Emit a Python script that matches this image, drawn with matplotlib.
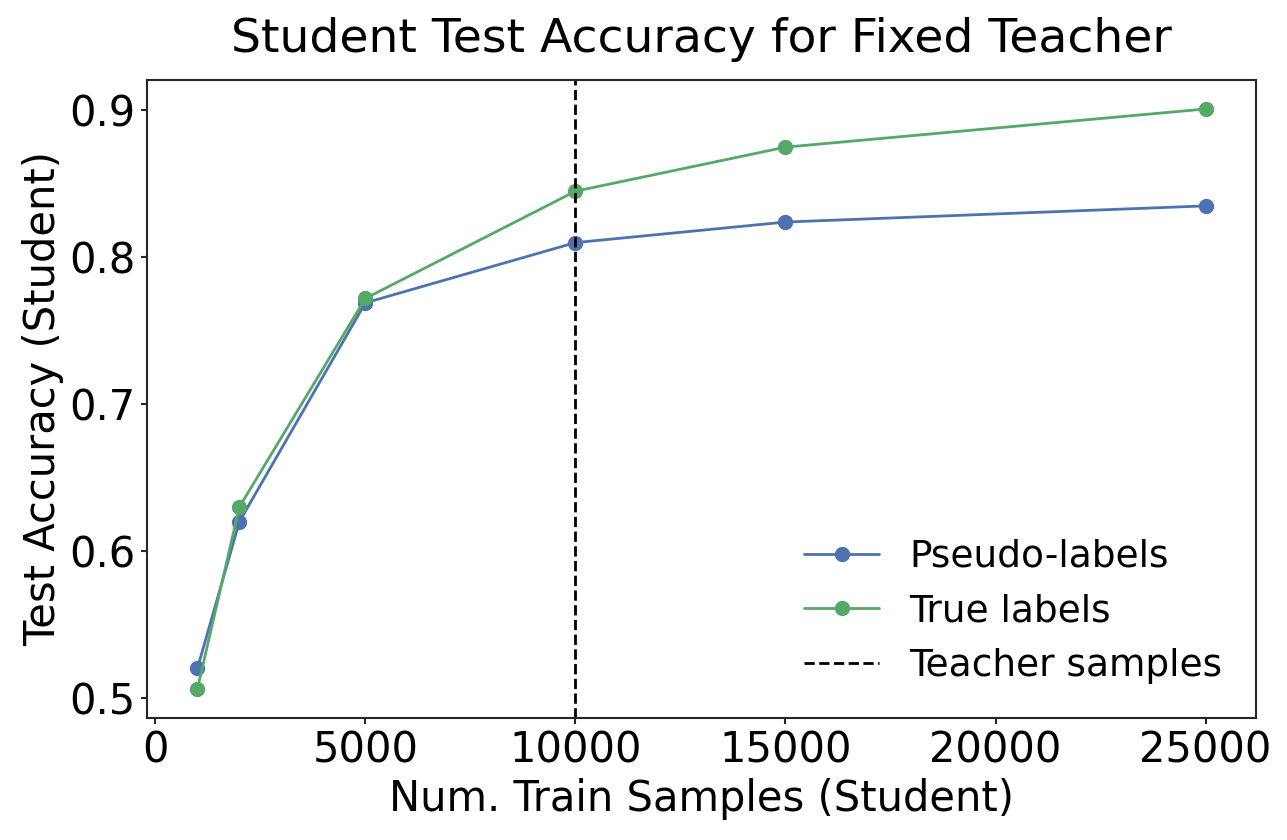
import matplotlib
matplotlib.use("Agg")
import matplotlib.pyplot as plt
import seaborn as sns

sns.set_style("ticks")
plt.rcParams['font.family'] = ['DejaVu Sans']
plt.rcParams['text.color'] = 'black'
plt.rcParams['axes.labelcolor'] = 'black'
plt.rcParams['xtick.color'] = 'black'
plt.rcParams['ytick.color'] = 'black'

train_samples = [1000, 2000, 5000, 10000, 15000, 25000]
pseudo_acc = [0.520, 0.620, 0.769, 0.810, 0.824, 0.835]
true_acc = [0.506, 0.630, 0.772, 0.845, 0.875, 0.901]
teacher_samples = 10000

blue = "#4C72B0"
green = "#55A868"

fig = plt.figure(figsize=(12.87, 8.4), dpi=100)
ax = fig.add_axes([0.1142, 0.1452, 0.8617, 0.7596])

ax.plot(train_samples, pseudo_acc, 'o-', color=blue, lw=2, ms=10, label="Pseudo-labels")
ax.plot(train_samples, true_acc, 'o-', color=green, lw=2, ms=10, label="True labels")
ax.axvline(teacher_samples, color='black', ls='--', lw=2, label="Teacher samples")

ax.set_xticks([0, 5000, 10000, 15000, 20000, 25000])
ax.set_yticks([0.5, 0.6, 0.7, 0.8, 0.9])
ax.tick_params(labelsize=30, length=4.5, width=1.5, color='#262626')
for s in ax.spines.values():
    s.set_linewidth(1.5)
    s.set_color('#262626')

ax.set_xlabel("Num. Train Samples (Student)", fontsize=30, labelpad=5)
ax.set_ylabel("Test Accuracy (Student)", fontsize=30)
ax.set_title("Student Test Accuracy for Fixed Teacher", fontsize=34, pad=20)
ax.legend(loc='lower right', fontsize=27, frameon=False)

plt.savefig("out.png", dpi=100)
